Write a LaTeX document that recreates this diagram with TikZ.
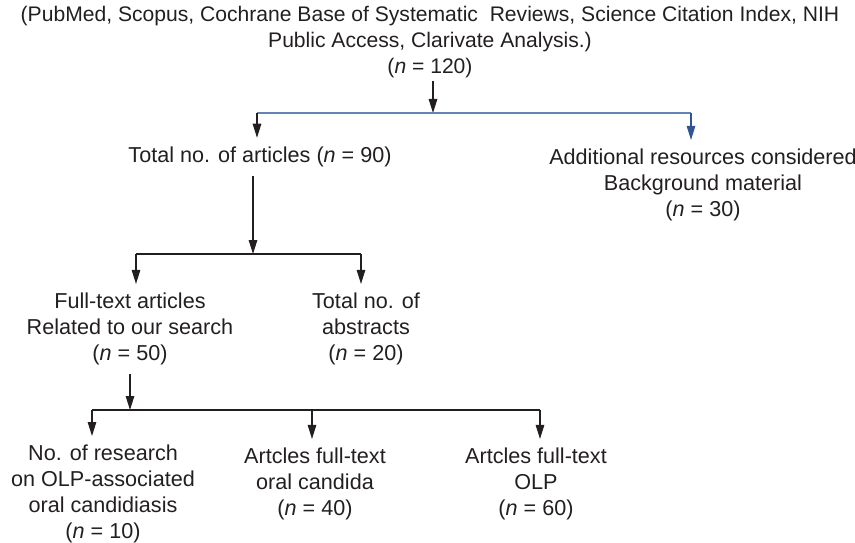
\documentclass[tikz,border=0pt]{standalone}
\usepackage{fontspec}
\setmainfont{Liberation Sans}
\usetikzlibrary{positioning, arrows.meta, calc}
\definecolor{inkgray}{HTML}{231F20}
\definecolor{linkblue}{HTML}{6383B5}
\definecolor{tipblue}{HTML}{2F5597}

\begin{document}
\begin{tikzpicture}[x=1pt, y=-1pt,
    txt/.style={align=center, text=inkgray, font=\fontsize{21.6}{25.8}\selectfont, inner xsep=0pt, inner ysep=9pt},
    flow/.style={-{Triangle[length=14pt, width=8.5pt]}, line width=1.2pt, draw=inkgray},
    bar/.style={line width=1.2pt, draw=inkgray}
]
    \useasboundingbox (0,0) rectangle (855,543);

    % Databases searched
    \node[txt, inner ysep=3pt, font=\fontsize{21.1}{25.6}\selectfont] (src) at (430,42) {(PubMed, Scopus, Cochrane Base of Systematic~ Reviews, Science Citation Index, NIH\\Public Access, Clarivate Analysis.)\\(\textit{n} = 120)};

    % First split
    \coordinate (hub1) at (433,113);
    \coordinate (hub1l) at (257,113);
    \coordinate (hub1r) at (691,113);
    \node[txt] (total) at (260,157) {Total no. of articles (\textit{n} = 90)};
    \node[txt] (extra) at (703,185) {Additional resources considered\\Background material\\(\textit{n} = 30)};

    \draw[flow] (hub1 |- src.south) -- (hub1);
    \draw[bar, draw=linkblue] (hub1l) -- (hub1r);
    \draw[flow] (hub1l) -- (hub1l |- total.north);
    \draw[flow, draw=tipblue] (hub1r) -- (hub1r |- extra.north);

    % Second split
    \coordinate (hub2) at (253,254);
    \coordinate (hub2l) at (136,254);
    \coordinate (hub2r) at (361,254);
    \node[txt] (fulltext) at (130,329) {Full-text articles\\Related to our search\\(\textit{n} = 50)};
    \node[txt] (abstr) at (366,329) {Total no. of\\abstracts\\(\textit{n} = 20)};

    \draw[flow] (hub2 |- total.south) -- (hub2);
    \draw[bar] (hub2l) -- (hub2r);
    \draw[flow] (hub2l) -- (hub2l |- fulltext.north);
    \draw[flow] (hub2r) -- (hub2r |- abstr.north);

    % Third split
    \coordinate (hub3) at (130,410);
    \coordinate (hub3l) at (92,410);
    \coordinate (hub3m) at (312,410);
    \coordinate (hub3r) at (540,410);
    \node[txt] (research) at (103,494) {No. of research\\on OLP-associated\\oral candidiasis\\(\textit{n} = 10)};
    \node[txt] (candida) at (315,484) {Artcles full-text\\oral candida\\(\textit{n} = 40)};
    \node[txt] (olp) at (536,484) {Artcles full-text\\OLP\\(\textit{n} = 60)};

    \draw[flow] (hub3 |- fulltext.south) -- (hub3);
    \draw[bar] (hub3l) -- (hub3r);
    \draw[flow] (hub3l) -- (hub3l |- research.north);
    \draw[flow] (hub3m) -- (hub3m |- candida.north);
    \draw[flow] (hub3r) -- (hub3r |- olp.north);

\end{tikzpicture}
\end{document}
